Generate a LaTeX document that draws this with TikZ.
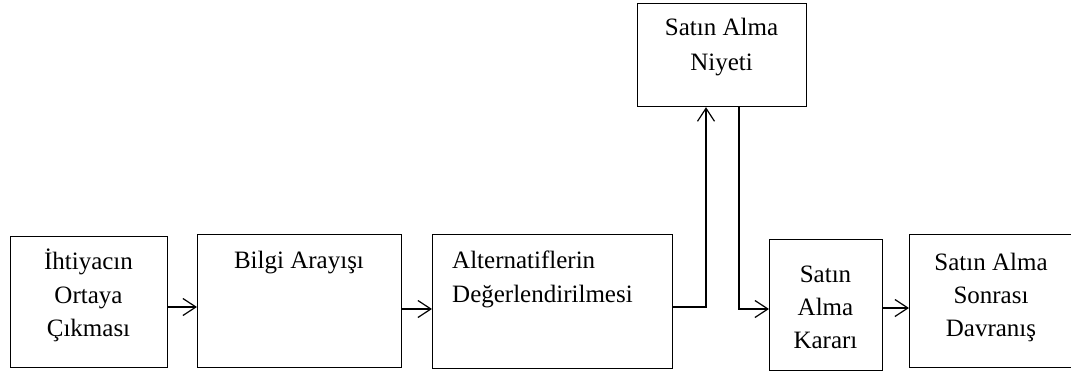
\documentclass[tikz,border=0pt]{standalone}
\usepackage{fontspec}
\setmainfont{Liberation Serif}
\usetikzlibrary{arrows.meta}
\begin{document}
\begin{tikzpicture}[x=1pt,y=-1pt,
  box/.style={draw,line width=1.2pt,rectangle,inner sep=0pt,anchor=north west},
  lbl/.style={anchor=base,inner sep=0pt,font=\fontsize{25}{29}\selectfont},
  lbll/.style={anchor=base west,inner sep=0pt,font=\fontsize{25}{29}\selectfont},
  link/.style={line width=1.2pt,-{Straight Barb[length=13pt,width=17pt,line width=1.2pt]}},
  wire/.style={line width=1.2pt}]
\clip (0,0) rectangle (1071,372);
\fill[white] (0,0) rectangle (1071,372);

% stage boxes
\node[box,minimum width=157pt,minimum height=131pt] (b1) at (10,236) {};
\node[box,minimum width=204pt,minimum height=133pt] (b2) at (197,234) {};
\node[box,minimum width=240pt,minimum height=134pt] (b3) at (432,234) {};
\node[box,minimum width=169pt,minimum height=103pt] (b4) at (637,3) {};
\node[box,minimum width=113pt,minimum height=131pt] (b5) at (769,239) {};
\node[box,minimum width=180pt,minimum height=133pt] (b6) at (909,234) {};

% labels
\node[lbl] (t1a) at (88.5,269) {İhtiyacın};
\node[lbl] (t1b) at (88.5,303) {Ortaya};
\node[lbl] (t1c) at (88.5,336) {Çıkması};
\node[lbl] (t2) at (299,268) {Bilgi Arayışı};
\node[lbll] (t3a) at (452,268) {Alternatiflerin};
\node[lbll] (t3b) at (452,302) {Değerlendirilmesi};
\node[lbl] (t4a) at (721.5,35) {Satın Alma};
\node[lbl] (t4b) at (721.5,70) {Niyeti};
\node[lbl] (t5a) at (825.5,282) {Satın};
\node[lbl] (t5b) at (825.5,315) {Alma};
\node[lbl] (t5c) at (825.5,348) {Kararı};
\node[lbl] (t6a) at (991,270) {Satın Alma};
\node[lbl] (t6b) at (991,303) {Sonrası};
\node[lbl] (t6c) at (991,336) {Davranış};

% connectors
\draw[link] (b1.east |- 0,307) -- (b2.west |- 0,307);
\draw[link] (b2.east |- 0,309) -- (b3.west |- 0,309);
\draw[link] (b3.east |- 0,307) -| (706,0 |- b4.south);
\draw[link] (739,0 |- b4.south) |- (b5.west |- 0,309);
\draw[link] (b5.east |- 0,308) -- (b6.west |- 0,308);
\end{tikzpicture}
\end{document}
